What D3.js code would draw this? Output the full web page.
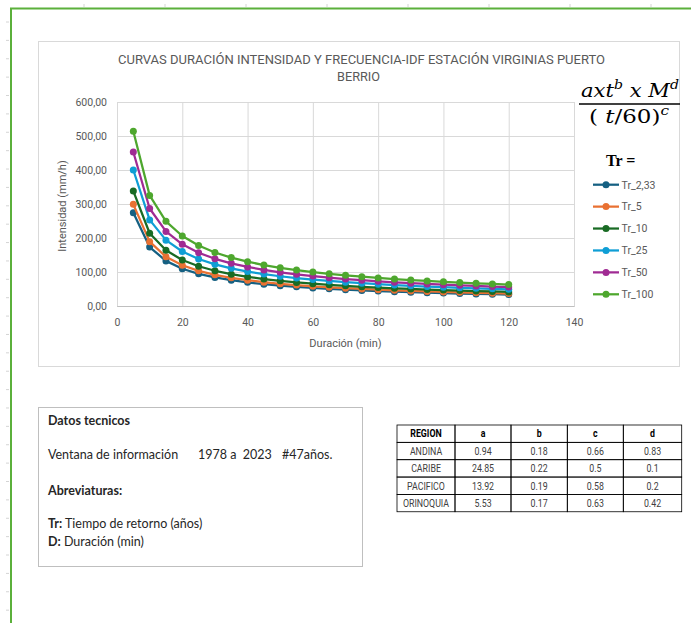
<!DOCTYPE html>
<html>
<head>
<meta charset="utf-8">
<script src="https://cdn.jsdelivr.net/npm/d3@7"></script>
<style>
  html, body { margin: 0; padding: 0; background: #ffffff; }
  svg { display: block; }
</style>
</head>
<body>
<svg id="chart" width="691" height="623"></svg>
<script>
// ---------------- DATA ----------------
const durations = [5,10,15,20,25,30,35,40,45,50,55,60,65,70,75,80,85,90,95,100,105,110,115,120];
const seriesNames = ["Tr_2,33","Tr_5","Tr_10","Tr_25","Tr_50","Tr_100"];
const tr233 = [274.0,173.4,132.7,109.7,94.7,84.0,75.9,69.5,64.3,59.9,56.3,53.2,50.4,48.0,45.9,44.0,42.2,40.7,39.2,37.9,36.7,35.6,34.6,33.6];
const tr5   = [299.0,189.2,144.8,119.7,103.4,91.6,82.8,75.8,70.1,65.4,61.4,58.0,55.0,52.4,50.1,48.0,46.1,44.4,42.8,41.4,40.1,38.9,37.8,36.7];
const tr10  = [338.0,213.9,163.7,135.4,116.8,103.6,93.6,85.7,79.3,73.9,69.4,65.6,62.2,59.2,56.6,54.2,52.1,50.2,48.4,46.8,45.3,43.9,42.7,41.5];
const tr25  = [400.0,253.2,193.7,160.2,138.3,122.6,110.7,101.4,93.8,87.5,82.2,77.6,73.6,70.1,67.0,64.2,61.7,59.4,57.3,55.4,53.6,52.0,50.5,49.1];
const tr50  = [453.0,286.7,219.4,181.4,156.6,138.8,125.4,114.8,106.2,99.1,93.1,87.9,83.3,79.4,75.8,72.7,69.8,67.2,64.9,62.7,60.7,58.9,57.2,55.6];
const tr100 = [514.0,325.3,248.9,205.9,177.7,157.5,142.3,130.3,120.5,112.4,105.6,99.7,94.6,90.1,86.1,82.5,79.2,76.3,73.6,71.2,68.9,66.8,64.9,63.1];
const seriesValues = [tr233, tr5, tr10, tr25, tr50, tr100];
const seriesColors = ["#156082","#E97132","#196B24","#0F9ED5","#A02B93","#4EA72E"];
const xTicks = [0,20,40,60,80,100,120,140];
const yTicks = [0,100,200,300,400,500,600];

const titleLines = ["CURVAS DURACIÓN INTENSIDAD Y FRECUENCIA-IDF ESTACIÓN VIRGINIAS PUERTO", "BERRIO"];
const xTitle = "Duración (min)";
const yTitle = "Intensidad (mm/h)";

const tableHeader = ["REGION","a","b","c","d"];
const regions = ["ANDINA","CARIBE","PACIFICO","ORINOQUIA"];
const aVals = ["0.94","24.85","13.92","5.53"];
const bVals = ["0.18","0.22","0.19","0.17"];
const cVals = ["0.66","0.5","0.58","0.63"];
const dVals = ["0.83","0.1","0.2","0.42"];

// ---------------- DRAW ----------------
const svg = d3.select("#chart");
const gray = "#595959";

// sheet ruler marks (faint)
const rulerX = d3.range(84, 691, 81);
svg.selectAll("line.rx").data(rulerX).enter().append("line")
  .attr("x1", d => d).attr("x2", d => d).attr("y1", 4).attr("y2", 7)
  .attr("stroke", "#d4d4d4").attr("stroke-width", 1);
const rulerY = d3.range(22, 623, 18.38);
svg.selectAll("line.ry").data(rulerY).enter().append("line")
  .attr("x1", 6).attr("x2", 9).attr("y1", d => d).attr("y2", d => d)
  .attr("stroke", "#d4d4d4").attr("stroke-width", 1);

// green border
svg.append("path")
  .attr("d", "M11,623 L11,8.5 L691,8.5")
  .attr("fill", "none").attr("stroke", "#5BB03B").attr("stroke-width", 2);

// chart box
svg.append("rect").attr("x", 38.5).attr("y", 41.5).attr("width", 641).attr("height", 325)
  .attr("fill", "#ffffff").attr("stroke", "#d9d9d9").attr("stroke-width", 1);

// scales
const x = d3.scaleLinear().domain([0, 140]).range([117, 574]);
const y = d3.scaleLinear().domain([0, 600]).range([306, 102]);

const fmtLocale = d3.formatLocale({decimal: ",", thousands: ".", grouping: [3], currency: ["", ""]});
const yFmt = fmtLocale.format(".2f");

// y axis + horizontal gridlines
const yAxisG = svg.append("g").attr("transform", `translate(${x(0)},0)`)
  .call(d3.axisLeft(y).tickValues(yTicks).tickFormat(yFmt)
    .tickSize(-(x(140) - x(0))).tickPadding(10));
yAxisG.select(".domain").remove();
yAxisG.selectAll("line").attr("stroke", "#d9d9d9").attr("stroke-width", 1);
yAxisG.selectAll("text").attr("fill", gray).style("font-family", "Roboto, 'Open Sans', sans-serif").style("font-size", "10.5px");

// x axis + vertical gridlines
const xAxisG = svg.append("g").attr("transform", `translate(0,${y(0)})`)
  .call(d3.axisBottom(x).tickValues(xTicks).tickFormat(d3.format("d"))
    .tickSize(-(y(0) - y(600))).tickPadding(12.5));
xAxisG.select(".domain").attr("stroke", "#bfbfbf");
xAxisG.selectAll("line").attr("stroke", "#d9d9d9").attr("stroke-width", 1);
xAxisG.selectAll("text").attr("fill", gray).style("font-family", "Roboto, 'Open Sans', sans-serif").style("font-size", "10.5px");

// axis titles
svg.append("text").attr("x", 345.5).attr("y", 347).attr("text-anchor", "middle")
  .attr("fill", gray).style("font-family", "Roboto, sans-serif").style("font-size", "11px").text(xTitle);
svg.append("text").attr("transform", "translate(66,206) rotate(-90)").attr("text-anchor", "middle")
  .attr("fill", gray).style("font-family", "Roboto, sans-serif").style("font-size", "11px").text(yTitle);

// title
const tfont = "'Liberation Sans Narrow', 'Arial Narrow', Roboto, sans-serif";
svg.append("text").attr("x", 361.5).attr("y", 64).attr("text-anchor", "middle")
  .attr("fill", gray).style("font-family", tfont).style("font-size", "12.5px")
  .attr("textLength", 487).attr("lengthAdjust", "spacingAndGlyphs").text(titleLines[0]);
svg.append("text").attr("x", 358.5).attr("y", 80.5).attr("text-anchor", "middle")
  .attr("fill", gray).style("font-family", tfont).style("font-size", "12.5px")
  .attr("textLength", 43).attr("lengthAdjust", "spacingAndGlyphs").text(titleLines[1]);

// series
const line = d3.line().x(d => x(d.t)).y(d => y(d.v));
seriesValues.forEach((vals, i) => {
  const pts = durations.map((t, j) => ({t: t, v: vals[j]}));
  const g = svg.append("g");
  g.append("path").datum(pts).attr("d", line).attr("fill", "none")
    .attr("stroke", seriesColors[i]).attr("stroke-width", 2.25).attr("stroke-linejoin", "round");
  g.selectAll("circle").data(pts).enter().append("circle")
    .attr("cx", d => x(d.t)).attr("cy", d => y(d.v)).attr("r", 3.5)
    .attr("fill", seriesColors[i]);
});

// legend
const legY = d3.scaleLinear().domain([0, 5]).range([184.7, 294.3]);
seriesNames.forEach((name, i) => {
  const ly = legY(i);
  svg.append("line").attr("x1", 593).attr("x2", 619).attr("y1", ly).attr("y2", ly)
    .attr("stroke", seriesColors[i]).attr("stroke-width", 2.25);
  svg.append("circle").attr("cx", 606).attr("cy", ly).attr("r", 3.5).attr("fill", seriesColors[i]);
  svg.append("text").attr("x", 621.5).attr("y", ly + 3.8).attr("fill", gray)
    .style("font-family", "Roboto, sans-serif").style("font-size", "10.5px").text(name);
});

// "Tr =" label
svg.append("text").attr("x", 606).attr("y", 166).attr("fill", "#000")
  .style("font-family", "'Liberation Serif', 'DejaVu Serif', serif").style("font-weight", "bold")
  .style("font-size", "16px").text("Tr =");

// formula
const ffont = "'DejaVu Serif', 'Liberation Serif', serif";
const num = svg.append("text").attr("x", 581).attr("y", 97).attr("fill", "#000")
  .style("font-family", ffont).style("font-style", "italic").style("font-size", "18px")
  .style("white-space", "pre")
  .attr("textLength", 98).attr("lengthAdjust", "spacingAndGlyphs");
num.append("tspan").text("axt");
num.append("tspan").attr("dy", -8).style("font-size", "12px").text("b");
num.append("tspan").attr("dy", 8).text(" x M");
num.append("tspan").attr("dy", -8).style("font-size", "12px").text("d");
svg.append("line").attr("x1", 579).attr("x2", 680).attr("y1", 104).attr("y2", 104)
  .attr("stroke", "#000").attr("stroke-width", 1.3);
const den = svg.append("text").attr("x", 589).attr("y", 123).attr("fill", "#000")
  .style("font-family", ffont).style("font-size", "18px")
  .attr("textLength", 80).attr("lengthAdjust", "spacingAndGlyphs");
den.append("tspan").text("( ");
den.append("tspan").style("font-style", "italic").text("t");
den.append("tspan").text("/60)");
den.append("tspan").attr("dy", -8).style("font-size", "12px").style("font-style", "italic").text("c");

// ---------------- info box ----------------
svg.append("rect").attr("x", 38.5).attr("y", 407.5).attr("width", 324).attr("height", 159)
  .attr("fill", "#fff").attr("stroke", "#bfbfbf").attr("stroke-width", 1);
const bfont = "Lato, 'Noto Sans', sans-serif";
const infoText = (xx, yy, parts) => {
  const t = svg.append("text").attr("x", xx).attr("y", yy).attr("fill", "#262626")
    .style("font-family", bfont).style("font-size", "12.5px").style("white-space", "pre");
  parts.forEach(p => t.append("tspan").style("font-weight", p[1] ? "bold" : "normal").text(p[0]));
  return t;
};
infoText(48, 424.5, [["Datos tecnicos", true]]);
infoText(48, 459, [["Ventana de información", false]]);
infoText(198, 459, [["1978 a  2023", false]]);
infoText(282, 459, [["#47años.", false]]);
infoText(48, 495, [["Abreviaturas:", true]]);
infoText(48, 527.5, [["Tr:", true], [" Tiempo de retorno (años)", false]]);
infoText(48, 546, [["D:", true], [" Duración (min)", false]]);

// ---------------- table ----------------
const colEdges = [397, 455, 511, 567.3, 623.3, 681.7];
const rowTop = 425, rowH = 17.35;
const tableRows = [tableHeader].concat(regions.map((r, i) => [r, aVals[i], bVals[i], cVals[i], dVals[i]]));
const tg = svg.append("g");
tableRows.forEach((row, ri) => {
  row.forEach((cell, ci) => {
    tg.append("rect").attr("x", colEdges[ci]).attr("y", rowTop + ri * rowH)
      .attr("width", colEdges[ci + 1] - colEdges[ci]).attr("height", rowH)
      .attr("fill", "none").attr("stroke", "#000").attr("stroke-width", 0.8);
    const cx = (colEdges[ci] + colEdges[ci + 1]) / 2;
    const cy = rowTop + ri * rowH + rowH / 2 + 3.8;
    tg.append("text").attr("transform", `translate(${cx},${cy}) scale(0.8,1)`)
      .attr("text-anchor", "middle")
      .attr("fill", ri === 0 ? "#000" : "#404040")
      .style("font-family", "Roboto, sans-serif")
      .style("font-size", "11px").style("font-weight", ri === 0 ? "bold" : "normal")
      .text(cell);
  });
});
</script>
</body>
</html>
